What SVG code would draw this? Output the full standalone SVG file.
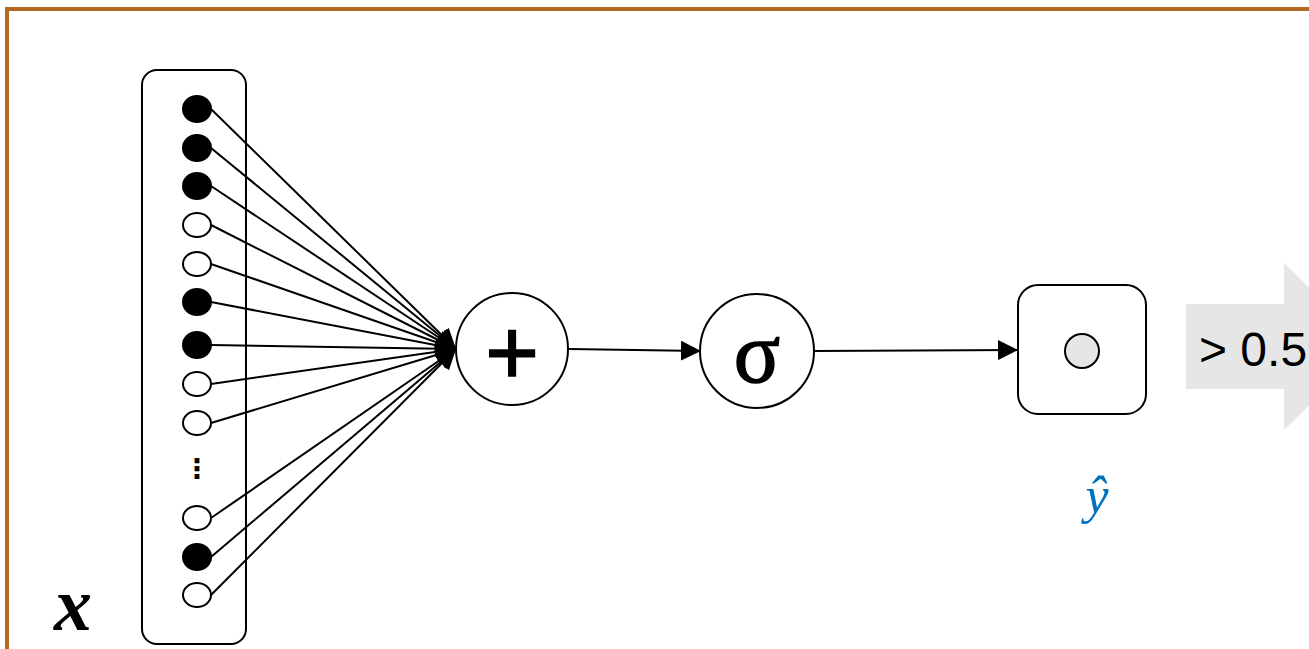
<svg xmlns="http://www.w3.org/2000/svg" width="1309" height="649" viewBox="0 0 1309 649">
<style>
.ln{stroke:#000;stroke-width:2;fill:none}
.in{stroke:#000;stroke-width:2}
.on{fill:#000}
.off{fill:#fff}
.nd{fill:#fff;stroke:#000;stroke-width:2}
</style>
<defs>
<marker id="ah" markerUnits="userSpaceOnUse" markerWidth="20" markerHeight="20" refX="20" refY="10" orient="auto" viewBox="0 0 20 20">
<path d="M0,0 L20,10 L0,20 z" fill="#000"/>
</marker>
</defs>
<rect x="7" y="9" width="1320" height="660" fill="#fff" stroke="#B4691E" stroke-width="4"/>
<g id="input">
<rect x="142" y="70" width="104" height="574" rx="15" class="nd"/>
<ellipse cx="197" cy="109" rx="14" ry="13" class="in on"/>
<ellipse cx="197" cy="148" rx="14" ry="13" class="in on"/>
<ellipse cx="197" cy="186" rx="14" ry="13" class="in on"/>
<ellipse cx="197" cy="225" rx="14" ry="12" class="in off"/>
<ellipse cx="197" cy="264" rx="14" ry="12" class="in off"/>
<ellipse cx="197" cy="302" rx="14" ry="13" class="in on"/>
<ellipse cx="197" cy="345" rx="14" ry="13" class="in on"/>
<ellipse cx="197" cy="384" rx="14" ry="12" class="in off"/>
<ellipse cx="197" cy="423" rx="14" ry="12" class="in off"/>
<text x="197" y="478" font-family="DejaVu Sans, sans-serif" font-size="27" font-weight="bold" text-anchor="middle">⋮</text>
<ellipse cx="197" cy="518" rx="14" ry="12" class="in off"/>
<ellipse cx="197" cy="557" rx="14" ry="13" class="in on"/>
<ellipse cx="197" cy="595" rx="14" ry="12" class="in off"/>
</g>
<g id="x-label">
<text x="54" y="630" font-family="Liberation Serif, serif" font-size="76" font-style="italic" font-weight="bold">x</text>
</g>
<g id="connectors">
<line x1="211" y1="109" x2="456" y2="349" class="ln" marker-end="url(#ah)"/>
<line x1="211" y1="148" x2="456" y2="349" class="ln" marker-end="url(#ah)"/>
<line x1="211" y1="186" x2="456" y2="349" class="ln" marker-end="url(#ah)"/>
<line x1="211" y1="225" x2="456" y2="349" class="ln" marker-end="url(#ah)"/>
<line x1="211" y1="264" x2="456" y2="349" class="ln" marker-end="url(#ah)"/>
<line x1="211" y1="302" x2="456" y2="349" class="ln" marker-end="url(#ah)"/>
<line x1="211" y1="345" x2="456" y2="349" class="ln" marker-end="url(#ah)"/>
<line x1="211" y1="384" x2="456" y2="349" class="ln" marker-end="url(#ah)"/>
<line x1="211" y1="423" x2="456" y2="349" class="ln" marker-end="url(#ah)"/>
<line x1="211" y1="518" x2="456" y2="349" class="ln" marker-end="url(#ah)"/>
<line x1="211" y1="557" x2="456" y2="349" class="ln" marker-end="url(#ah)"/>
<line x1="211" y1="595" x2="456" y2="349" class="ln" marker-end="url(#ah)"/>
<line x1="569" y1="349" x2="701" y2="351" class="ln" marker-end="url(#ah)"/>
<line x1="814" y1="351" x2="1018" y2="350" class="ln" marker-end="url(#ah)"/>
</g>
<g id="sum">
<circle cx="512" cy="349" r="56" class="nd"/>
<text x="512" y="384" font-family="Liberation Sans, sans-serif" font-size="92" text-anchor="middle" stroke="#000" stroke-width="1.5">+</text>
</g>
<g id="sigmoid">
<circle cx="757" cy="351" r="57" class="nd"/>
<text x="757" y="382" font-family="Liberation Serif, serif" font-size="86" text-anchor="middle" stroke="#000" stroke-width="1.5">σ</text>
</g>
<g id="output">
<rect x="1018" y="285" width="128" height="129" rx="20" class="nd"/>
<circle cx="1082" cy="351" r="17" fill="#e6e6e6" stroke="#000" stroke-width="2"/>
<text x="1097" y="513" font-family="Liberation Serif, serif" font-size="52" font-style="italic" fill="#0070C0" text-anchor="middle">ŷ</text>
</g>
<g id="threshold">
<polygon points="1186,304 1284,304 1284,263 1370,346 1284,430 1284,389 1186,389" fill="#e6e6e6"/>
<text x="1199" y="366" font-family="Liberation Sans, sans-serif" font-size="48">&gt; 0.5</text>
</g>
</svg>
